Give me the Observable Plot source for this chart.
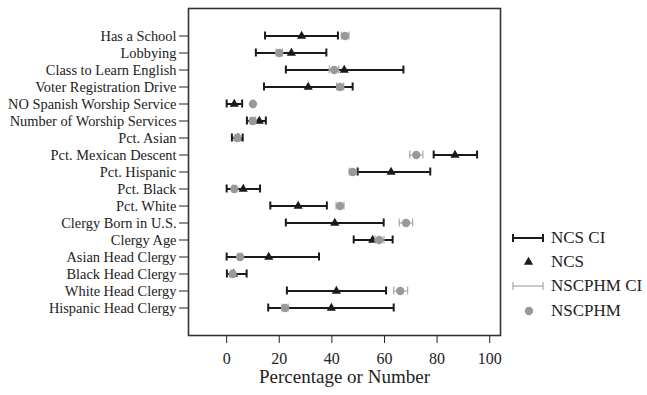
<!DOCTYPE html>
<html>
<head>
<meta charset="utf-8">
<script src="https://cdn.jsdelivr.net/npm/d3@7"></script>
<script src="https://cdn.jsdelivr.net/npm/@observablehq/plot@0.6"></script>
<style>
  body { margin: 0; background: #fff; }
  #chart { position: relative; width: 647px; height: 395px; font-family: "Liberation Serif", "Times New Roman", serif; color: #222; }
  #legend { position: absolute; left: 510px; top: 226px; }
  .item { display: flex; align-items: center; height: 24.2px; font-size: 17px; }
  .item svg { display: block; margin-right: 4px; }
</style>
</head>
<body>
<div id="chart"></div>
<script>
// Congregation characteristics: NCS estimates vs. NSCPHM estimates, with confidence intervals
const categories = [
  "Has a School", "Lobbying", "Class to Learn English", "Voter Registration Drive",
  "NO Spanish Worship Service", "Number of Worship Services", "Pct. Asian",
  "Pct. Mexican Descent", "Pct. Hispanic", "Pct. Black", "Pct. White",
  "Clergy Born in U.S.", "Clergy Age", "Asian Head Clergy", "Black Head Clergy",
  "White Head Clergy", "Hispanic Head Clergy"
];
const ncs      = [28.5, 24.6, 44.7, 31.0, 2.9, 12.4, 4.3, 86.8, 62.5, 6.3, 27.2, 41.1, 55.5, 16.0, 2.6, 41.7, 39.8];
const ncsLo    = [14.6, 11.1, 22.5, 14.2, 0.0, 7.7, 2.0, 78.7, 49.8, 0.0, 16.6, 22.5, 48.3, 0.0, 0.1, 22.9, 15.8];
const ncsHi    = [42.3, 37.9, 67.2, 47.9, 5.9, 14.9, 6.1, 95.2, 77.4, 12.7, 38.1, 59.7, 63.1, 35.1, 7.6, 60.6, 63.5];
const nscphm   = [45.0, 20.0, 40.9, 43.1, 10.0, 9.9, 4.1, 72.1, 47.9, 2.9, 43.1, 68.2, 58.0, 5.1, 2.3, 66.0, 22.2];
const nscphmLo = [43.6, 18.8, 39.0, 41.8, 9.5, 8.9, 3.3, 69.6, 46.6, 2.2, 41.6, 65.6, 56.4, 4.3, 1.6, 63.5, 21.0];
const nscphmHi = [46.5, 21.2, 42.6, 44.5, 10.5, 11.0, 4.9, 74.6, 49.4, 3.6, 44.6, 70.7, 59.8, 5.9, 3.0, 68.8, 23.4];
const xTicks   = [0, 20, 40, 60, 80, 100];

const rows = categories.map((category, i) => ({
  category,
  ncs: ncs[i], ncsLo: ncsLo[i], ncsHi: ncsHi[i],
  nscphm: nscphm[i], nscphmLo: nscphmLo[i], nscphmHi: nscphmHi[i]
}));

const serif = '"Liberation Serif", "Times New Roman", serif';
const dark = "#1a1a1a";
const grayDot = "#999999";
const grayCI = "#a8a8a8";
const capInset = 4.5;

const chart = Plot.plot({
  width: 647,
  height: 395,
  marginTop: 8,
  marginBottom: 60,
  marginLeft: 188,
  marginRight: 147,
  style: { fontFamily: serif, color: "#222", background: "#fff", overflow: "visible" },
  x: { domain: [-14.5, 104.1] },
  y: { type: "band", domain: categories, paddingInner: 0, paddingOuter: 1.06 },
  marks: [
    Plot.frame({ stroke: "#333", strokeWidth: 1.6 }),
    Plot.axisY({ tickSize: 9, tickPadding: 3, fontSize: 14.4, label: null }),
    Plot.axisX({ ticks: xTicks, tickSize: 8, tickPadding: 9, fontSize: 16, label: null }),
    Plot.text(["Percentage or Number"], { frameAnchor: "bottom", dy: 47, fontSize: 19, fill: "#222" }),

    // NCS confidence intervals
    Plot.ruleY(rows, { y: "category", x1: "ncsLo", x2: "ncsHi", stroke: dark, strokeWidth: 2 }),
    Plot.tickX(rows, { y: "category", x: "ncsLo", stroke: dark, strokeWidth: 2, insetTop: capInset, insetBottom: capInset }),
    Plot.tickX(rows, { y: "category", x: "ncsHi", stroke: dark, strokeWidth: 2, insetTop: capInset, insetBottom: capInset }),
    // NCS estimates
    Plot.dot(rows, { y: "category", x: "ncs", symbol: "triangle", r: 3.4, fill: dark, stroke: null }),

    // NSCPHM confidence intervals
    Plot.ruleY(rows, { y: "category", x1: "nscphmLo", x2: "nscphmHi", stroke: grayCI, strokeWidth: 1.2 }),
    Plot.tickX(rows, { y: "category", x: "nscphmLo", stroke: grayCI, strokeWidth: 1.2, insetTop: capInset, insetBottom: capInset }),
    Plot.tickX(rows, { y: "category", x: "nscphmHi", stroke: grayCI, strokeWidth: 1.2, insetTop: capInset, insetBottom: capInset }),
    // NSCPHM estimates
    Plot.dot(rows, { y: "category", x: "nscphm", r: 4.2, fill: grayDot, stroke: null })
  ]
});

const container = document.getElementById("chart");
container.appendChild(chart);

// Legend to the right of the plot frame
const legendItems = [
  { label: "NCS CI", kind: "ci", color: dark, width: 2 },
  { label: "NCS", kind: "triangle", color: dark },
  { label: "NSCPHM CI", kind: "ci", color: grayCI, width: 1.2 },
  { label: "NSCPHM", kind: "circle", color: grayDot }
];
const legend = document.createElement("div");
legend.id = "legend";
for (const item of legendItems) {
  const row = document.createElement("div");
  row.className = "item";
  let shape;
  if (item.kind === "ci") {
    shape = `<line x1="3" x2="33" y1="10" y2="10" stroke="${item.color}" stroke-width="${item.width}"/>
             <line x1="3" x2="3" y1="6" y2="14" stroke="${item.color}" stroke-width="${item.width}"/>
             <line x1="33" x2="33" y1="6" y2="14" stroke="${item.color}" stroke-width="${item.width}"/>`;
  } else if (item.kind === "triangle") {
    shape = `<path transform="translate(18.5,10)" d="${d3.symbol(d3.symbolTriangle, 3.4 * 3.4 * Math.PI)()}" fill="${item.color}"/>`;
  } else {
    shape = `<circle cx="19" cy="10" r="4.2" fill="${item.color}"/>`;
  }
  row.innerHTML = `<svg width="37" height="20">${shape}</svg><span>${item.label}</span>`;
  legend.appendChild(row);
}
container.appendChild(legend);
</script>
</body>
</html>
